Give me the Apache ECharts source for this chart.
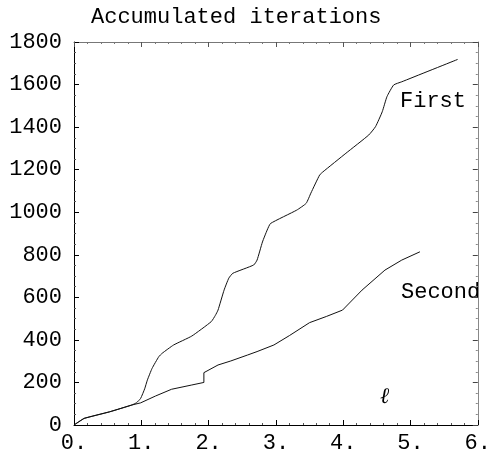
<!DOCTYPE html>
<html>
<head>
<meta charset="utf-8">
<script src="https://cdn.jsdelivr.net/npm/echarts@6/dist/echarts.min.js"></script>
<style>html,body{margin:0;padding:0;background:#fff}#c{width:494px;height:458px}</style>
</head>
<body>
<div id="c"></div>
<script>
const firstX = [0, 0.15, 0.53, 0.86, 0.93, 0.99, 1.05, 1.09, 1.16, 1.26, 1.31, 1.48, 1.75, 2.04, 2.10, 2.14, 2.23, 2.30, 2.36, 2.67, 2.72, 2.80, 2.87, 2.92, 3.31, 3.45, 3.52, 3.65, 3.70, 4.04, 4.38, 4.48, 4.58, 4.65, 4.75, 4.87, 5.70];
const firstY = [0, 31, 62, 94, 105, 125, 170, 211, 266, 321, 337, 376, 418, 486, 515, 540, 634, 690, 713, 752, 775, 860, 916, 947, 1010, 1042, 1090, 1175, 1190, 1277, 1363, 1402, 1472, 1543, 1598, 1613, 1718];
const secondX = [0, 0.15, 0.53, 0.86, 0.99, 1.21, 1.45, 1.75, 1.93, 1.93, 2.14, 2.33, 2.58, 2.72, 2.97, 3.20, 3.50, 3.75, 3.99, 4.28, 4.62, 4.87, 5.14];
const secondY = [0, 31, 62, 94, 104, 136, 168, 188, 200, 246, 282, 301, 329, 345, 376, 420, 481, 510, 540, 634, 728, 775, 814];
const xTicks = [0, 1, 2, 3, 4, 5, 6];
const yTicks = [0, 200, 400, 600, 800, 1000, 1200, 1400, 1600, 1800];
const titleText = 'Accumulated iterations';
const curveLabels = ['First', 'Second', 'ℓ'];

const FONT = '"Liberation Mono", "DejaVu Sans Mono", monospace';
const chart = echarts.init(document.getElementById('c'), null, {renderer: 'canvas'});
const pair = (xs, ys) => xs.map((x, i) => [x, ys[i]]);

const baseAxis = {
  type: 'value', splitLine: {show: false},
  axisTick: {show: true, inside: true, length: 5, lineStyle: {color: '#000', width: 1}},
  minorTick: {show: true, length: 2, lineStyle: {color: '#555', width: 1}},
};

chart.setOption({
  animation: false,
  backgroundColor: '#fff',
  grid: {left: 74, right: 9, top: 42, bottom: 33},
  xAxis: [
    Object.assign({}, baseAxis, {
      min: xTicks[0], max: xTicks[xTicks.length - 1], interval: 1, position: 'bottom',
      minorTick: {show: true, splitNumber: 5, length: 2, lineStyle: {color: '#555'}},
      axisLine: {show: true, onZero: false, lineStyle: {color: '#000', width: 1}},
      axisLabel: {formatter: v => v + '.', color: '#000', fontFamily: FONT, fontSize: 22, margin: 7}
    }),
    Object.assign({}, baseAxis, {
      min: xTicks[0], max: xTicks[xTicks.length - 1], interval: 1, position: 'top',
      minorTick: {show: true, splitNumber: 5, length: 2, lineStyle: {color: '#777'}},
      axisLine: {show: true, onZero: false, lineStyle: {color: '#777', width: 1}},
      axisTick: {show: true, inside: true, length: 5, lineStyle: {color: '#555'}},
      axisLabel: {show: false}
    })
  ],
  yAxis: [
    Object.assign({}, baseAxis, {
      min: yTicks[0], max: yTicks[yTicks.length - 1], interval: 200, position: 'left',
      minorTick: {show: true, splitNumber: 4, length: 2, lineStyle: {color: '#555'}},
      axisLine: {show: true, onZero: false, lineStyle: {color: '#000', width: 1}},
      axisLabel: {formatter: v => String(v), color: '#000', fontFamily: FONT, fontSize: 22, margin: 12}
    }),
    Object.assign({}, baseAxis, {
      min: yTicks[0], max: yTicks[yTicks.length - 1], interval: 200, position: 'right',
      minorTick: {show: true, splitNumber: 4, length: 2, lineStyle: {color: '#888'}},
      axisLine: {show: true, onZero: false, lineStyle: {color: '#888', width: 1}},
      axisTick: {show: true, inside: true, length: 5, lineStyle: {color: '#444'}},
      axisLabel: {show: false}
    })
  ],
  series: [
    {type: 'line', data: pair(firstX, firstY), showSymbol: false, smooth: 0.15,
     lineStyle: {color: '#111', width: 1}},
    {type: 'line', data: pair(secondX, secondY), showSymbol: false, smooth: false,
     lineStyle: {color: '#111', width: 1}}
  ],
  graphic: [
    {type: 'text', left: 91, top: 6, style: {text: titleText, font: '22px ' + FONT, fill: '#000'}},
    {type: 'text', left: 400, top: 90, style: {text: curveLabels[0], font: '22px ' + FONT, fill: '#000'}},
    {type: 'text', left: 401, top: 281, style: {text: curveLabels[1], font: '22px ' + FONT, fill: '#000'}},
    {type: 'text', left: 380, top: 386, style: {text: curveLabels[2], font: 'italic 22px "DejaVu Serif", serif', fill: '#000'}}
  ]
});
</script>
</body>
</html>
